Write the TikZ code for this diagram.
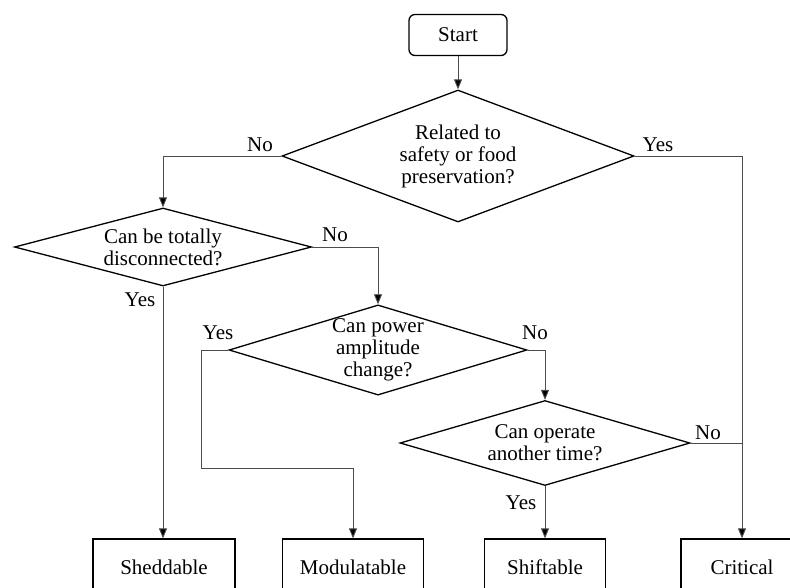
\documentclass[tikz,border=0pt]{standalone}
\usepackage{fontspec}
\setmainfont{Liberation Serif}
\usetikzlibrary{shapes.geometric,arrows.meta}
\tikzset{
    box/.style={draw, line width=1.3pt, minimum height=56pt, inner sep=0pt},
    startbox/.style={draw, line width=1.3pt, rounded corners=6pt, minimum width=98pt, minimum height=41pt},
    decision/.style={draw, diamond, line width=1.3pt, inner sep=0pt, align=center},
    link/.style={draw=black!70, line width=0.9pt},
    arrowlink/.style={link, -{Triangle[length=10pt,width=8pt,fill=black]}}
}

\begin{document}
\begin{tikzpicture}[x=1pt, y=-1pt, font=\fontsize{21}{22}\selectfont]
    \useasboundingbox (0,0) rectangle (790,587);
    \node[startbox] (start) at (458,35) {Start};
    \node[decision, minimum width=352pt, minimum height=132pt, aspect=2.67] (related) at (458,156)
        {Related to\\safety or food\\preservation?};
    \node[decision, minimum width=297pt, minimum height=78pt, aspect=3.8] (disconnect) at (163,247)
        {Can be totally\\disconnected?};
    \node[decision, minimum width=298pt, minimum height=89pt, aspect=3.3] (amplitude) at (378,350)
        {Can power\\amplitude\\change?};
    \node[decision, minimum width=290pt, minimum height=85pt, aspect=3.4] (anothertime) at (545,443)
        {Can operate\\another time?};
    % load classes
    \node[box, minimum width=142pt] (sheddable) at (164,567) {Sheddable};
    \node[box, minimum width=141pt] (modulatable) at (353,567) {Modulatable};
    \node[box, minimum width=121pt] (shiftable) at (545,567) {Shiftable};
    \node[box, minimum width=122pt] (critical) at (742,567) {Critical};
    \coordinate (bend) at (201,468);
    % connectors
    \draw[arrowlink] (start) -- (related);
    \draw[arrowlink] (related.west) -| (disconnect.north);
    \draw[arrowlink] (related.east) -| (critical.north);
    \draw[arrowlink] (disconnect.east) -| (amplitude.north);
    \draw[arrowlink] (disconnect.south) -- (disconnect.south |- sheddable.north);
    \draw[arrowlink] (amplitude.west) -| (bend) -| (modulatable.north);
    \draw[arrowlink] (amplitude.east) -| (anothertime.north);
    \draw[arrowlink] (anothertime.south) -- (shiftable.north);
    \draw[link] (anothertime.east) -- (anothertime.east -| critical.north);
    % answers
    \node (no1) at (260,145) {No};
    \node (yes1) at (658,145) {Yes};
    \node (no2) at (335,235) {No};
    \node (yes2) at (140,300) {Yes};
    \node (yes3) at (218,333) {Yes};
    \node (no3) at (535,333) {No};
    \node (no4) at (708,433) {No};
    \node (yes4) at (521,503) {Yes};
\end{tikzpicture}
\end{document}
